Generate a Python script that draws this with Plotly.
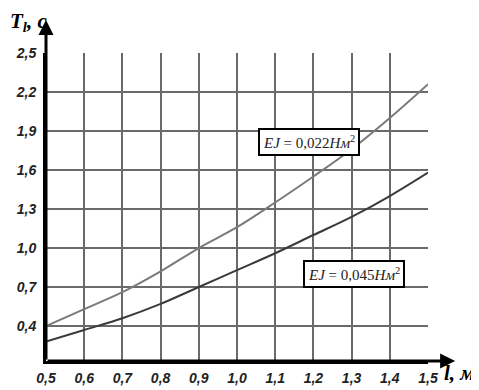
import plotly.graph_objects as go

length_m = [0.5, 0.6, 0.7, 0.8, 0.9, 1.0, 1.1, 1.2, 1.3, 1.4, 1.5]
period_ej022 = [0.40, 0.53, 0.66, 0.82, 1.00, 1.16, 1.35, 1.55, 1.76, 2.00, 2.26]
period_ej045 = [0.28, 0.37, 0.46, 0.57, 0.70, 0.83, 0.96, 1.10, 1.24, 1.40, 1.58]

x_tickvals = [0.5, 0.6, 0.7, 0.8, 0.9, 1.0, 1.1, 1.2, 1.3, 1.4, 1.5]
x_ticktext = ["0,5", "0,6", "0,7", "0,8", "0,9", "1,0", "1,1", "1,2", "1,3", "1,4", "1,5"]
y_tickvals = [0.4, 0.7, 1.0, 1.3, 1.6, 1.9, 2.2, 2.5]
y_ticktext = ["0,4", "0,7", "1,0", "1,3", "1,6", "1,9", "2,2", "2,5"]

label_022 = "<i>EJ</i> = 0,022<i>Нм</i><sup>2</sup>"
label_045 = "<i>EJ</i> = 0,045<i>Нм</i><sup>2</sup>"

fig = go.Figure()
fig.add_trace(go.Scatter(x=length_m, y=period_ej022, mode="lines",
                         line=dict(color="#7a7a7a", width=2, shape="spline"),
                         showlegend=False))
fig.add_trace(go.Scatter(x=length_m, y=period_ej045, mode="lines",
                         line=dict(color="#3a3a3a", width=2, shape="spline"),
                         showlegend=False))

tickfont = dict(family="Liberation Sans", size=14, color="#222", weight="bold", style="italic")

fig.update_xaxes(range=[0.5, 1.5], tickvals=x_tickvals, ticktext=x_ticktext,
                 showgrid=True, gridcolor="#6a6a6a", gridwidth=1.5,
                 showline=True, linecolor="black", linewidth=3,
                 zeroline=False, ticks="", tickfont=tickfont, ticklabelstandoff=2,
                 automargin=False)
fig.update_yaxes(range=[0.131, 2.5], tickvals=y_tickvals, ticktext=y_ticktext,
                 showgrid=True, gridcolor="#6a6a6a", gridwidth=1.5,
                 showline=True, linecolor="black", linewidth=3,
                 zeroline=False, ticks="", tickfont=tickfont, ticklabelstandoff=4,
                 automargin=False)

annotations = [
    # y axis arrow
    dict(xref="paper", yref="paper", x=0, y=1.107, ax=0, ay=341, text="",
         showarrow=True, arrowhead=2, arrowsize=1, arrowwidth=3, arrowcolor="black"),
    # x axis arrow
    dict(xref="paper", yref="paper", x=1.071, y=0, ax=-409, ay=0, text="",
         showarrow=True, arrowhead=2, arrowsize=1, arrowwidth=3, arrowcolor="black"),
    dict(xref="paper", yref="paper", x=-0.099, y=1.148, xanchor="left", yanchor="top",
         text="<b><i>T<sub>l</sub>, c</i></b>", showarrow=False,
         font=dict(family="Liberation Serif", size=21, color="black")),
    dict(xref="paper", yref="paper", x=1.037, y=0.005, xanchor="left", yanchor="top",
         text="<b><i>l, м</i></b>", showarrow=False,
         font=dict(family="Liberation Serif", size=21, color="black")),
    dict(xref="x", yref="y", x=1.188, y=1.819, text=label_022, showarrow=False,
         bgcolor="white", bordercolor="black", borderwidth=2, borderpad=3,
         font=dict(family="Liberation Serif", size=15, color="#222")),
    dict(xref="x", yref="y", x=1.305, y=0.80, text=label_045, showarrow=False,
         bgcolor="white", bordercolor="black", borderwidth=2, borderpad=3,
         font=dict(family="Liberation Serif", size=15, color="#222")),
]

# the page body adds an 8px offset; the figure size and margins compensate for it
fig.update_layout(width=471, height=382,
                  margin=dict(l=38, r=51, t=45, b=29),
                  paper_bgcolor="white", plot_bgcolor="white",
                  annotations=annotations)

fig.write_html("out.html")
